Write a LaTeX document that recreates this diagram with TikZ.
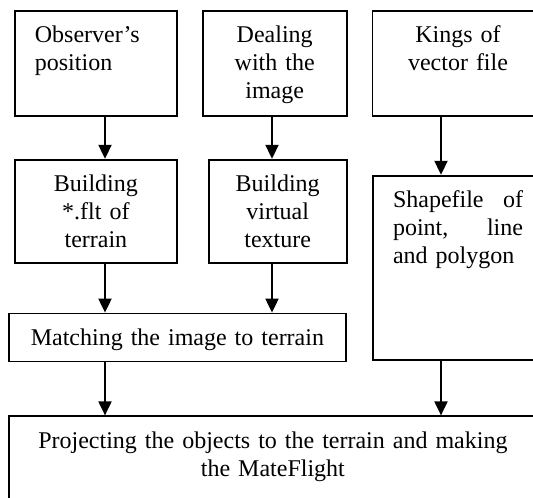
\documentclass[tikz,border=0pt]{standalone}
\usepackage{fontspec}
\setmainfont{Liberation Serif}
\usetikzlibrary{arrows.meta,positioning}

\begin{document}
\begin{tikzpicture}[x=1pt,y=-1pt,node distance=24pt,
        >={Triangle[width=13pt,length=14pt]}]
            \tikzstyle{block}=[draw, line width=1.8pt, inner xsep=20pt, inner ysep=0pt,
                text height=32pt, font=\fontsize{24}{28}\selectfont, align=center]

            \useasboundingbox (0,0) rectangle (533,498);
            \clip (0,0) rectangle (533,498);

            % top row
            \node[block, anchor=north west, text width=122pt, text depth=73pt, align=left]
                (obs) at (14,10) {Observer’s\\position};
            \node[block, text width=104pt, text depth=73pt] (deal) [right=of obs] {Dealing\\with the\\image};
            \node[block, text width=131pt, text depth=73pt] (kind) [right=of deal] {Kings of\\vector file};

            % second row
            \node[block, text width=122pt, text depth=71pt] (flt) [below=42pt of obs] {Building\\{*}.flt of\\terrain};
            \node[block, text width=98pt, text depth=71pt] (tex) [below=42pt of deal, xshift=3pt] {Building\\virtual\\texture};
            \node[block, text width=130pt, text depth=152pt, align=left] (shp) [below=58pt of kind]
                {Shapefile\hfill of\\point,\hfill line\\and polygon};

            \node[block, text width=297pt, text depth=16pt] (match)
                [below right=49pt and -6pt of flt.south west] {Matching the image to terrain};
            \node[block, text width=488pt, text depth=100pt] (proj)
                [below right=53pt and 0pt of match.south west]
                {Projecting the objects to the terrain and making\\the MateFlight};

            \coordinate (colA) at (105,0);
            \coordinate (colB) at (272,0);
            \coordinate (colC) at (441,0);

            \path[->, line width=2pt]
                (obs.south -| colA) edge (flt.north -| colA)
                (deal.south -| colB) edge (tex.north -| colB)
                (kind.south -| colC) edge (shp.north -| colC)

                (flt.south -| colA) edge (match.north -| colA)
                (tex.south -| colB) edge (match.north -| colB)

                (match.south -| colA) edge (proj.north -| colA)
                (shp.south -| colC) edge (proj.north -| colC)
                ;
        \end{tikzpicture}
\end{document}
